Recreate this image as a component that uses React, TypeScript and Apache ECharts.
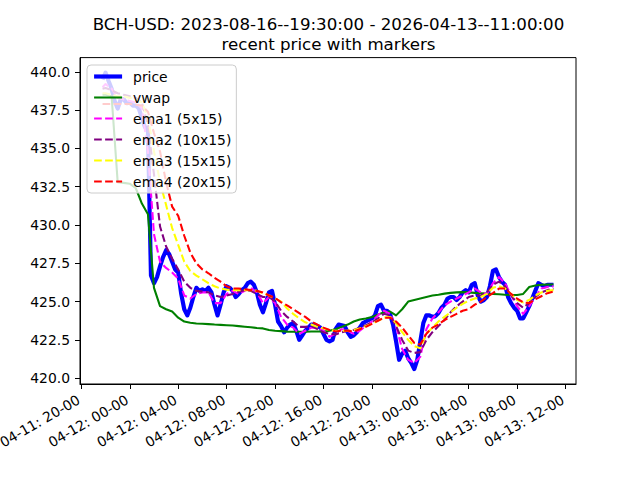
import React, { useEffect, useRef } from "react";
import * as echarts from "echarts";

const titleText =
  "BCH-USD: 2023-08-16--19:30:00 - 2026-04-13--11:00:00\nrecent price with markers";

// hours counted from 04-11 00:00
const priceStartHour = 21.75;
const priceStepHours = 0.25;
// 15-minute closes
const price = [
  439.5,
  439.95, 439.4, 438.9, 438.1,
  437.6, 438.2, 438.2, 437.95,
  438.0, 437.8, 437.8, 437.6,
  437.0, 436.4, 436.2, 426.7,
  426.2, 426.6, 427.3, 427.9,
  428.35, 428.1, 427.6, 427.1,
  426.9, 425.5, 424.5, 424.1,
  424.6, 425.3, 425.9, 425.7,
  425.8, 425.7, 425.9, 425.6,
  424.8, 424.1, 424.8, 425.6,
  426.0, 425.9, 425.7, 425.3,
  425.5, 425.75, 425.9, 426.2,
  426.3, 426.1, 425.6, 424.8,
  424.3, 424.9, 425.6, 425.7,
  424.8, 423.7, 423.4, 423.0,
  423.3, 423.5, 423.6, 423.1,
  422.5, 422.8, 423.1, 423.3,
  423.5, 423.5, 423.4, 423.3,
  422.9, 422.5, 422.4, 422.5,
  423.2, 423.5, 423.45, 423.4,
  423.0, 422.7, 422.8, 423.0,
  423.3, 423.6, 423.7, 423.8,
  423.9, 424.1, 424.7, 424.8,
  424.4, 424.4, 424.2, 423.5,
  422.4, 421.2, 421.6, 421.8,
  421.3, 421.0, 420.6, 421.2,
  422.4, 423.6, 424.1, 424.1,
  424.0, 424.05, 424.25, 424.6,
  424.8, 425.2, 425.3, 425.3,
  425.1, 425.3, 425.6, 425.75,
  425.6, 426.1, 426.2, 425.4,
  425.0, 425.1, 425.3, 426.0,
  427.0, 427.1, 426.6, 426.3,
  426.1, 425.3, 424.9, 424.6,
  424.4, 423.9, 423.9, 424.3,
  424.7, 425.2, 425.7, 426.2,
  426.1, 426.0, 426.1, 426.1,
  426.1,
];

// half-hourly samples for the smoother lines
const smoothHours = [21.75, ...Array.from({ length: 75 }, (_, i) => 22 + i * 0.5)];

const vwap = [
  438.5,
  438.5, 438.4, 432.8, 432.75, 432.7, 432.4, 431.4, 430.7,
  425.9, 424.7, 424.5, 424.35, 423.95, 423.7, 423.62, 423.57,
  423.55, 423.53, 423.5, 423.48, 423.46, 423.44, 423.4, 423.36,
  423.32, 423.28, 423.25, 423.15, 423.1, 423.07, 423.04, 423.03,
  423.03, 423.03, 423.05, 423.05, 423.05, 423.1, 423.2, 423.35,
  423.5, 423.7, 423.83, 423.9, 424.0, 424.15, 424.3, 424.35,
  424.1, 424.5, 425.0, 425.1, 425.2, 425.3, 425.4, 425.45,
  425.52, 425.57, 425.6, 425.62, 425.6, 425.57, 425.55, 425.52,
  425.5, 425.48, 425.45, 425.43, 425.43, 425.5, 425.95, 426.05,
  426.1, 426.12, 426.12,
];

const ema1 = [
  439.0,
  439.2, 438.9, 438.3, 438.2, 438.1, 438.0, 437.6, 434.8,
  429.4, 427.6, 427.2, 426.9, 426.5, 425.4, 425.2, 425.5,
  425.6, 425.6, 424.9, 424.9, 425.5, 425.7, 425.5, 425.7,
  425.9, 425.6, 424.9, 425.3, 424.9, 424.0, 423.5, 423.3,
  422.9, 423.1, 423.3, 423.3, 423.1, 422.7, 422.9, 423.2,
  423.1, 422.9, 423.1, 423.4, 423.7, 424.1, 424.4, 424.2,
  423.4, 421.9, 421.2, 421.0, 421.4, 423.2, 423.9, 424.3,
  424.75, 425.0, 425.2, 425.4, 425.6, 425.85, 425.6, 425.5,
  426.2, 426.6, 426.2, 425.4, 424.7, 424.2, 424.7, 425.3,
  425.85, 425.95, 426.0,
];

const ema2 = [
  438.9,
  438.95, 438.8, 438.6, 438.5, 438.4, 438.3, 438.0, 436.5,
  433.3, 429.9, 428.6, 427.8, 427.1, 426.3, 425.9, 425.7,
  425.65, 425.6, 425.4, 425.3, 425.4, 425.5, 425.65, 425.75,
  425.7, 425.5, 425.3, 425.3, 425.0, 424.4, 424.0, 423.7,
  423.35, 423.35, 423.4, 423.2, 423.0, 422.9, 422.85, 423.0,
  423.1, 423.15, 423.3, 423.45, 423.65, 423.9, 424.2, 424.1,
  423.4, 422.5, 421.8, 421.65, 421.7, 422.5, 423.0, 423.4,
  423.8, 424.3, 424.7, 425.0, 425.3, 425.4, 425.4, 425.6,
  426.1, 426.3, 426.0, 425.4, 424.9, 424.6, 424.9, 425.3,
  425.6, 425.75, 425.85,
];

const ema3 = [
  438.6,
  438.6, 438.5, 438.4, 438.4, 438.3, 438.2, 438.0, 437.0,
  434.8, 432.8, 431.3, 429.8, 428.7, 427.6, 427.0, 426.7,
  426.45, 426.2, 426.0, 425.85, 425.78, 425.75, 425.75, 425.75,
  425.75, 425.7, 425.55, 425.4, 425.2, 425.0, 424.55, 424.2,
  423.9, 423.65, 423.5, 423.35, 423.25, 423.15, 423.1, 423.1,
  423.1, 423.15, 423.25, 423.4, 423.55, 423.75, 423.95, 424.0,
  423.6, 423.0, 422.5, 422.1, 421.95, 422.9, 423.3, 423.7,
  424.0, 424.3, 424.6, 424.85, 425.05, 425.2, 425.3, 425.5,
  425.9, 426.0, 425.85, 425.5, 425.1, 424.95, 425.1, 425.4,
  425.6, 425.7, 425.75,
];

const ema4 = [
  437.9,
  437.9, 437.9, 437.9, 437.9, 437.9, 437.85, 437.8, 437.4,
  436.0, 434.8, 432.8, 431.2, 430.6, 429.3, 428.2, 427.5,
  427.1, 426.85, 426.55, 426.3, 426.0, 425.85, 425.85, 425.8,
  425.75, 425.7, 425.6, 425.4, 425.25, 424.95, 424.75, 424.5,
  424.25, 424.0, 423.7, 423.5, 423.3, 423.15, 423.05, 423.1,
  423.1, 423.05, 423.2, 423.35, 423.55, 423.75, 423.95, 423.95,
  423.7, 423.3, 422.8, 422.3, 422.2, 422.9, 423.3, 423.5,
  423.8, 424.0, 424.2, 424.4, 424.5, 424.8, 425.0, 425.3,
  425.55, 425.85, 425.85, 425.5, 425.2, 424.95, 424.9, 425.15,
  425.35, 425.55, 425.65,
];

const xTicks = [20, 24, 28, 32, 36, 40, 44, 48, 52, 56, 60];
const yTicks = [420, 422.5, 425, 427.5, 430, 432.5, 435, 437.5, 440];

const seriesNames = ["price", "vwap", "ema1 (5x15)", "ema2 (10x15)", "ema3 (15x15)", "ema4 (20x15)"];
const seriesColors = ["#0000ff", "#008000", "#ff00ff", "#800080", "#ffff00", "#ff0000"];

const FONT = "DejaVu Sans";

function fmtHour(h: number): string {
  const day = 11 + Math.floor(h / 24);
  const hr = h % 24;
  return `04-${day}: ${String(hr).padStart(2, "0")}-00`;
}

export default function App() {
  const ref = useRef<HTMLDivElement>(null);
  useEffect(() => {
    if (!ref.current) return;
    const chart = echarts.init(ref.current, undefined, { renderer: "svg" });
    const priceData = price.map((v, i) => [priceStartHour + i * priceStepHours, v]);
    const pair = (arr: number[]) => arr.map((v, i) => [smoothHours[i], v]);
    const dash = [7.7, 3.33];
    const widths = [4.17, 2.08, 2.08, 2.08, 2.08, 2.08];
    const types: any[] = ["solid", "solid", dash, dash, dash, dash];
    const mk = (i: number, data: number[][]) => ({
      name: seriesNames[i],
      type: "line",
      data,
      showSymbol: false,
      symbol: "none",
      color: seriesColors[i],
      lineStyle: { color: seriesColors[i], width: widths[i], type: types[i], join: "round" },
      itemStyle: { color: seriesColors[i] },
      emphasis: { disabled: true },
    });
    chart.setOption({
      animation: false,
      title: {
        text: titleText,
        left: 323.5,
        top: 9,
        textAlign: "center",
        textStyle: { fontFamily: FONT, fontSize: 16.67, fontWeight: "normal", color: "#000", lineHeight: 20 },
      },
      legend: {
        orient: "vertical",
        left: 87,
        top: 65,
        padding: [4.5, 5, 4.5, 5],
        itemWidth: 28,
        itemHeight: 14,
        itemGap: 7,
        selectedMode: false,
        backgroundColor: "rgba(255,255,255,0.8)",
        borderColor: "#cccccc",
        borderWidth: 1,
        borderRadius: 4,
        data: seriesNames.map((n, i) => ({
          name: n,
          lineStyle: { width: widths[i], type: types[i], color: seriesColors[i] },
        })),
        itemStyle: { opacity: 0, color: "transparent", borderWidth: 0 },
        textStyle: { fontFamily: FONT, fontSize: 13.9, color: "#000", padding: [0, 0, 0, 6] },
      },
      grid: {
        left: 80,
        top: 57.6,
        width: 496,
        height: 326.4,
        show: true,
        borderColor: "#000",
        borderWidth: 1,
        containLabel: false,
        outerBoundsMode: "none",
      },
      xAxis: {
        type: "value",
        min: 19.8875,
        max: 60.8625,
        splitLine: { show: false },
        axisLine: { show: true, lineStyle: { color: "#000", width: 1 } },
        axisTick: { show: true, length: 5, lineStyle: { color: "#000" }, customValues: xTicks },
        axisLabel: {
          customValues: xTicks,
          formatter: (v: number) => fmtHour(v),
          rotate: 30,
          margin: 13,
          padding: [0, 3, 0, 0],
          fontFamily: FONT,
          fontSize: 13.9,
          color: "#000",
        },
      },
      yAxis: {
        type: "value",
        min: 419.62,
        max: 440.93,
        splitLine: { show: false },
        axisLine: { show: true, lineStyle: { color: "#000", width: 1 } },
        axisTick: { show: true, length: 5, lineStyle: { color: "#000" }, customValues: yTicks },
        axisLabel: {
          customValues: yTicks,
          formatter: (v: number) => v.toFixed(1),
          margin: 10,
          fontFamily: FONT,
          fontSize: 13.9,
          color: "#000",
        },
      },
      series: [
        mk(0, priceData),
        mk(1, pair(vwap)),
        mk(2, pair(ema1)),
        mk(3, pair(ema2)),
        mk(4, pair(ema3)),
        mk(5, pair(ema4)),
      ],
    });
    return () => chart.dispose();
  }, []);
  return (
    <div
      ref={ref}
      style={{ position: "absolute", left: 0, top: 0, width: 640, height: 480, background: "#fff" }}
    />
  );
}
